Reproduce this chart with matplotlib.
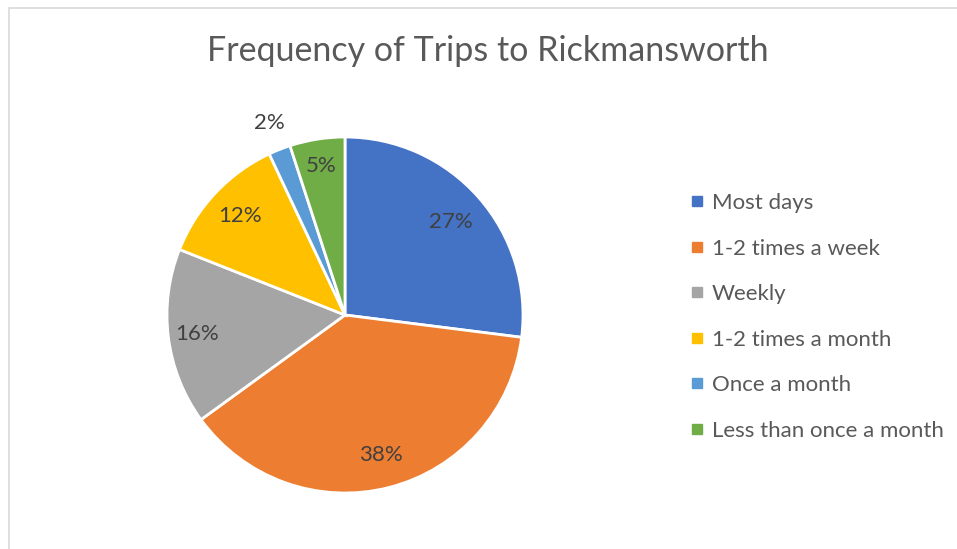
import numpy as np
import matplotlib.pyplot as plt
from matplotlib.patches import Rectangle
from matplotlib.lines import Line2D

plt.rcParams['font.family'] = ['Lato', 'DejaVu Sans']

# survey answers
categories = ['Most days', '1-2 times a week', 'Weekly', '1-2 times a month',
              'Once a month', 'Less than once a month']
shares = [27, 38, 16, 12, 2, 5]
colors = ['#4472C4', '#ED7D31', '#A5A5A5', '#FFC000', '#5B9BD5', '#70AD47']
label_dist = [0.79, 0.81, 0.84, 0.81, 1.16, 0.85]

W, H = 957, 549
fig = plt.figure(figsize=(W / 100, H / 100), dpi=100)

# chart area outline (runs off the right and bottom edges)
fig.patches.append(Rectangle((8.5 / W, -0.1), 1.2, 1 - 7.5 / H + 0.1,
                             transform=fig.transFigure, fill=False,
                             edgecolor='#d9d9d9', linewidth=1.2))

cx, cy, r = 345, 315, 178
ax = fig.add_axes([(cx - r) / W, (H - cy - r) / H, 2 * r / W, 2 * r / H])

wedges, _ = ax.pie(shares, colors=colors, startangle=90, counterclock=False,
                   radius=1, wedgeprops=dict(edgecolor='white', linewidth=2))
ax.set_xlim(-1, 1)
ax.set_ylim(-1, 1)
ax.set_aspect('equal')
ax.axis('off')

for w, v, d in zip(wedges, shares, label_dist):
    mid = np.deg2rad((w.theta1 + w.theta2) / 2)
    ax.text(d * np.cos(mid), d * np.sin(mid), f'{v}%', ha='center', va='center',
            fontsize=16, color='#404040', clip_on=False)

fig.text(488 / W, 1 - 51 / H, 'Frequency of Trips to Rickmansworth',
         ha='center', va='center', fontsize=24.5, color='#595959')

handles = [Line2D([], [], marker='s', linestyle='none', markersize=6.5,
                  markerfacecolor=c, markeredgecolor=c) for c in colors]
fig.legend(handles, categories, loc='upper left',
           bbox_to_anchor=(689 / W, 1 - 193 / H), frameon=False,
           fontsize=16, labelcolor='#595959', handlelength=0.7,
           handletextpad=0.33, labelspacing=1.15, borderpad=0,
           borderaxespad=0)

fig.savefig('out.png', dpi=100)
